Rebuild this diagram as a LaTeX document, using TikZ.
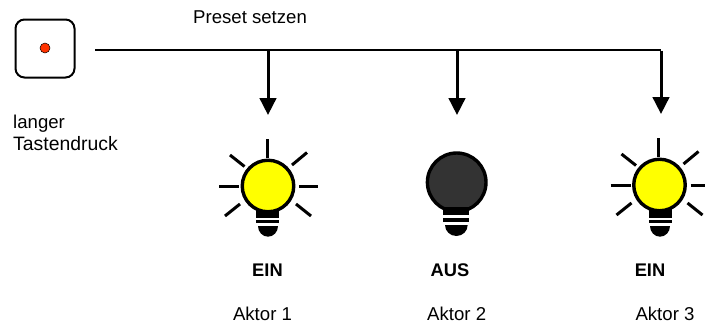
\documentclass[tikz,border=0pt]{standalone}
\usepackage{fontspec}
\setmainfont{Liberation Sans}
\usetikzlibrary{arrows.meta}
\definecolor{bulbyellow}{RGB}{255,255,0}
\definecolor{bulbdark}{RGB}{51,51,51}
\definecolor{ledred}{RGB}{255,51,0}
\tikzset{
  lbl/.style={inner sep=0pt,font=\fontsize{18.6}{18.6}\selectfont,text=black},
  lblb/.style={lbl,font=\fontsize{18.3}{18.3}\selectfont\bfseries},
  bus/.style={line width=2pt,line cap=butt},
  drop/.style={line width=3pt,-{Triangle[length=17pt,width=16.5pt]}},
  ray/.style={line width=3pt},
  glass/.style={circle,draw=black,line width=3.4pt,inner sep=0pt},
  base/.style={fill=black,draw=none},
}
\newcommand{\litrays}[1]{%
  \draw[ray] (#1)++(-1,-47) -- ++(0,19);
  \draw[ray] (#1)++(-49,0) -- ++(20,0);
  \draw[ray] (#1)++(31,0.5) -- ++(19,0);
  \draw[ray] (#1)++(-38,-31) -- ++(14.5,11.5);
  \draw[ray] (#1)++(39,-33.5) -- ++(-15,12.5);
  \draw[ray] (#1)++(-28,18) -- ++(-15,12);
  \draw[ray] (#1)++(28,18) -- ++(15,12);
}
\begin{document}
\begin{tikzpicture}[x=1pt,y=-1pt]
\useasboundingbox (0,0) rectangle (705,325);
% button
\node[draw=black,line width=2pt,rounded corners=9pt,minimum width=59pt,minimum height=58pt,inner sep=0pt] (button) at (45,48.5) {};
\node[circle,draw=black,line width=0.5pt,fill=ledred,minimum size=10pt,inner sep=0pt] (led) at (45,48) {};
% bus and drops
\coordinate (busstart) at (95,49.5);
\coordinate (j1) at (268,49.5);
\coordinate (j2) at (457,49.5);
\coordinate (j3) at (661,49.5);
\coordinate (t1) at (268,115);
\coordinate (t2) at (457,115);
\coordinate (t3) at (661,114);
\draw[bus] (busstart) -- (j3);
\draw[drop] (j1) -- (t1);
\draw[drop] (j2) -- (t2);
\draw[drop] ([yshift=-1pt]j3) -- (t3);
% bulb 1
\coordinate (c1) at (268,186);
\litrays{c1}
\node[glass,fill=bulbyellow,minimum size=51.5pt] (bulb1) at (c1) {};
\fill[base] (256,210) rectangle (279,218.3);
\fill[base] (256,219.7) rectangle (279,223.2);
\fill[base] (258,226) -- (278,226) arc[start angle=0,end angle=180,x radius=10pt,y radius=-10.7pt] -- cycle;
% bulb 2
\node[glass,fill=bulbdark,minimum size=58.6pt] (bulb2) at (456.7,182.3) {};
\fill[base] (443,206.7) rectangle (469,214.7);
\fill[base] (443,218) rectangle (469,222);
\fill[base] (445,225) -- (467.7,225) arc[start angle=0,end angle=180,x radius=11.35pt,y radius=-11pt] -- cycle;
% bulb 3
\coordinate (c3) at (659.5,185);
\litrays{c3}
\node[glass,fill=bulbyellow,minimum size=51.5pt] (bulb3) at (c3) {};
\fill[base] (649,209.3) rectangle (672,218.3);
\fill[base] (649,219.5) rectangle (672,223.3);
\fill[base] (650,226) -- (670,226) arc[start angle=0,end angle=180,x radius=10pt,y radius=-10.7pt] -- cycle;
% labels
\node[lbl,anchor=base west] (preset) at (193,23.3) {Preset setzen};
\node[lbl,anchor=base west] (lang) at (13,128.3) {langer};
\node[lbl,anchor=base west,font=\fontsize{19.4}{19.4}\selectfont] (druck) at (13,150) {Tastendruck};
\node[lblb,anchor=base] (s1) at (267.5,276.7) {EIN};
\node[lblb,anchor=base] (s2) at (450,276.7) {AUS};
\node[lblb,anchor=base] (s3) at (650,276.7) {EIN};
\node[lbl,anchor=base] (a1) at (262.5,320.7) {Aktor 1};
\node[lbl,anchor=base] (a2) at (456.7,320.7) {Aktor 2};
\node[lbl,anchor=base] (a3) at (665,320.7) {Aktor 3};
\end{tikzpicture}
\end{document}
